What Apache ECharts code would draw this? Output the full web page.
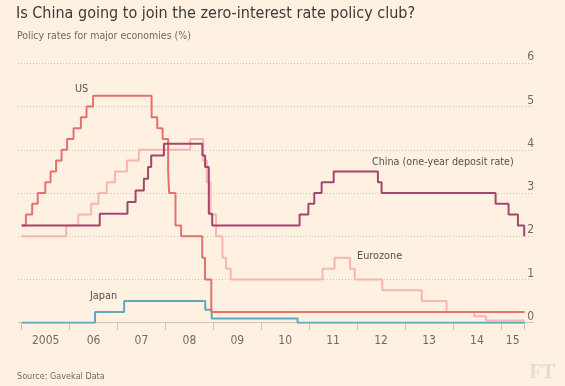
<!DOCTYPE html>
<html>
<head>
<meta charset="utf-8">
<script src="https://cdn.jsdelivr.net/npm/echarts@6/dist/echarts.min.js"></script>
<style>
html,body{margin:0;padding:0;background:#fef1e1;}
#chart{width:565px;height:386px;}
</style>
</head>
<body>
<div id="chart"></div>
<script>
// ---- data ----
const startDate = '2005-01-01';
const endDate = '2015-07-01';
const tickLabels = ['2005','06','07','08','09','10','11','12','13','14','15'];
const yTicks = [0,1,2,3,4,5,6];

const usDates = ['2005-01-01','2005-02-02','2005-03-22','2005-05-03','2005-06-30','2005-08-09','2005-09-20','2005-11-01','2005-12-13','2006-01-31','2006-03-28','2006-05-10','2006-06-29','2007-09-18','2007-10-31','2007-12-11','2008-01-22','2008-01-30','2008-03-18','2008-04-30','2008-10-08','2008-10-29','2008-12-16'];
const usRates = [2.25,2.5,2.75,3.0,3.25,3.5,3.75,4.0,4.25,4.5,4.75,5.0,5.25,4.75,4.5,4.25,3.5,3.0,2.25,2.0,1.5,1.0,0.25];

const euroDates = ['2005-01-01','2005-12-06','2006-03-08','2006-06-15','2006-08-09','2006-10-11','2006-12-13','2007-03-14','2007-06-13','2008-07-09','2008-10-15','2008-11-12','2008-12-10','2009-01-21','2009-03-11','2009-04-08','2009-05-13','2011-04-13','2011-07-13','2011-11-09','2011-12-14','2012-07-11','2013-05-08','2013-11-13','2014-06-11','2014-09-10'];
const euroRates = [2.0,2.25,2.5,2.75,3.0,3.25,3.5,3.75,4.0,4.25,3.75,3.25,2.5,2.0,1.5,1.25,1.0,1.25,1.5,1.25,1.0,0.75,0.5,0.25,0.15,0.05];

const chinaDates = ['2005-01-01','2006-08-19','2007-03-18','2007-05-19','2007-07-21','2007-08-22','2007-09-15','2007-12-21','2008-10-09','2008-10-30','2008-11-27','2008-12-23','2010-10-20','2010-12-26','2011-02-09','2011-04-06','2011-07-07','2012-06-08','2012-07-06','2014-11-22','2015-03-01','2015-05-11','2015-06-28'];
const chinaRates = [2.25,2.52,2.79,3.06,3.33,3.60,3.87,4.14,3.87,3.60,2.52,2.25,2.50,2.75,3.00,3.25,3.50,3.25,3.00,2.75,2.50,2.25,2.00];

const japanDates = ['2005-01-01','2006-07-14','2007-02-21','2008-10-31','2008-12-19','2010-10-05'];
const japanRates = [0,0.25,0.5,0.3,0.1,0];

// ---- helpers ----
const ts = s => Date.parse(s + 'T00:00:00Z');
function steps(dates, rates){
  const d = dates.map((t,i)=>[ts(t), rates[i]]);
  d.push([ts(endDate), rates[rates.length-1]]);
  return d;
}
const yearStarts = tickLabels.map((_,i)=>Date.UTC(2005+i,0,1));
const tickVals = yearStarts.concat([ts(endDate)]);
const labelVals = tickVals.slice(0,-1).map((v,i)=>(v+tickVals[i+1])/2);

const FONT = "'Liberation Sans Narrow','DejaVu Sans Condensed',sans-serif";
const chart = echarts.init(document.getElementById('chart'), null, {renderer:'canvas'});

const option = {
  backgroundColor:'#fef1e1',
  animation:false,
  grid:[
    {left:21.7, right:40.4, top:63.3, bottom:63.3},
    {left:18, right:31, top:63.3, bottom:63.3}
  ],
  xAxis:[
    {type:'value', gridIndex:0, min:ts(startDate), max:ts(endDate),
     axisLine:{show:false},
     axisTick:{show:true, customValues:tickVals, length:7, lineStyle:{color:'#cbc2b8', width:1}},
     axisLabel:{show:true, customValues:labelVals, margin:12, color:'#6f6a66', fontSize:12, fontFamily:FONT,
       formatter:function(v){ const y=new Date(v).getUTCFullYear()-2005; return tickLabels[y]; }},
     splitLine:{show:false}},
    {type:'value', gridIndex:1, min:0, max:1,
     axisLine:{show:true, lineStyle:{color:'#cbc2b8', width:1}},
     axisTick:{show:false}, axisLabel:{show:false}, splitLine:{show:false}}
  ],
  yAxis:[
    {type:'value', gridIndex:0, min:0, max:6, interval:1, show:false},
    {type:'value', gridIndex:1, min:0, max:6, interval:1, position:'right',
     axisLine:{show:false}, axisTick:{show:false},
     axisLabel:{inside:true, margin:0, align:'right', verticalAlign:'bottom', padding:[0,0,0,0],
       color:'#6f6a66', fontSize:12, fontFamily:FONT,
       formatter:function(v){ return yTicks.indexOf(v)>=0 ? String(v) : ''; }},
     splitLine:{show:true, lineStyle:{color:'#cdc4ba', type:[1,2], width:1}}}
  ],
  series:[
    {name:'Eurozone', type:'line', step:'end', xAxisIndex:0, yAxisIndex:0, symbol:'none',
     lineStyle:{color:'#f8b4b1', width:2}, data:steps(euroDates, euroRates), z:2},
    {name:'Japan', type:'line', step:'end', xAxisIndex:0, yAxisIndex:0, symbol:'none',
     lineStyle:{color:'#5eaabd', width:2}, data:steps(japanDates, japanRates), z:3},
    {name:'US', type:'line', step:'end', xAxisIndex:0, yAxisIndex:0, symbol:'none',
     lineStyle:{color:'#e4716e', width:2}, data:steps(usDates, usRates), z:4},
    {name:'China', type:'line', step:'end', xAxisIndex:0, yAxisIndex:0, symbol:'none',
     lineStyle:{color:'#a5456f', width:2}, data:steps(chinaDates, chinaRates), z:5}
  ],
  graphic:[
    {type:'text', left:16, top:6, style:{text:'Is China going to join the zero-interest rate policy club?', fill:'#3d3936', font:'16px '+FONT}},
    {type:'text', left:17, top:31, style:{text:'Policy rates for major economies (%)', fill:'#6f6a66', font:'10.5px '+FONT}},
    {type:'text', left:75, top:84, style:{text:'US', fill:'#57524e', font:'10.8px '+FONT}},
    {type:'text', left:90, top:291, style:{text:'Japan', fill:'#57524e', font:'10.8px '+FONT}},
    {type:'text', left:372, top:157, style:{text:'China (one-year deposit rate)', fill:'#57524e', font:'10.7px '+FONT}},
    {type:'text', left:357, top:251, style:{text:'Eurozone', fill:'#57524e', font:'10.8px '+FONT}},
    {type:'text', left:17, top:372, style:{text:'Source: Gavekal Data', fill:'#6f6a66', font:'9px '+FONT}},
    {type:'text', right:10, top:363, style:{text:'FT', fill:'#e6dbcf', font:'bold 20px "Liberation Serif","DejaVu Serif",serif'}}
  ]
};
chart.setOption(option);
</script>
</body>
</html>
